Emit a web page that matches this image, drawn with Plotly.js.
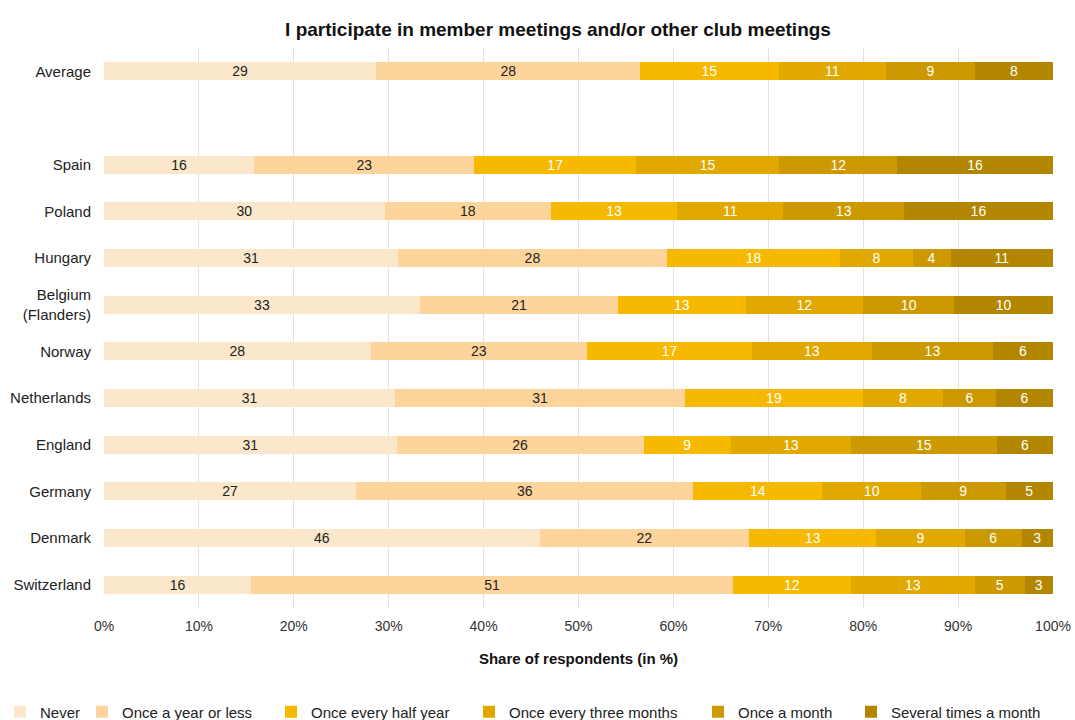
<!DOCTYPE html>
<html>
<head>
<meta charset="utf-8">
<script src="https://cdn.plot.ly/plotly-3.0.1.min.js"></script>
<style>html,body{margin:0;padding:0;background:#fff;}#chart{width:1075px;height:720px;}</style>
</head>
<body>
<div id="chart"></div>
<script>
const categories = ["Average", "gap", "Spain", "Poland", "Hungary", "Belgium (Flanders)", "Norway", "Netherlands", "England", "Germany", "Denmark", "Switzerland"];
const tickLabels = ["Average", "", "Spain", "Poland", "Hungary", "Belgium<br>(Flanders)", "Norway", "Netherlands", "England", "Germany", "Denmark", "Switzerland"];
const seriesNames = ["Never", "Once a year or less", "Once every half year", "Once every three months", "Once a month", "Several times a month"];
// shares in %; labels show rounded values
const never       = [28.7, null, 15.8, 29.6, 31.0, 33.3, 28.1, 30.7, 30.8, 26.6, 45.9, 15.5];
const yearOrLess  = [27.8, null, 23.2, 17.5, 28.3, 20.9, 22.8, 30.5, 26.0, 35.5, 22.1, 50.7];
const halfYear    = [14.6, null, 17.0, 13.3, 18.3, 13.4, 17.4, 18.8, 9.2, 13.6, 13.4, 12.4];
const threeMonths = [11.3, null, 15.1, 11.2, 7.6, 12.4, 12.6, 8.4, 12.6, 10.4, 9.3, 13.1];
const month       = [9.4, null, 12.4, 12.7, 4.0, 9.6, 12.8, 5.6, 15.4, 8.9, 6.0, 5.2];
const several     = [8.2, null, 16.4, 15.7, 10.8, 10.4, 6.3, 6.0, 5.9, 5.0, 3.3, 3.0];

const seriesValues = [never, yearOrLess, halfYear, threeMonths, month, several];
const colors = ["#FBE8CC", "#FDD49C", "#F6B900", "#E1A900", "#CC9900", "#B38600"];
const textColors = ["#222222", "#222222", "#ffffff", "#ffffff", "#ffffff", "#ffffff"];
const legendTextStart = [22, 122, 311, 509, 738, 891];

const traces = seriesValues.map((vals, i) => ({
  type: "bar",
  orientation: "h",
  name: seriesNames[i],
  y: categories,
  x: vals,
  text: vals.map(v => v == null ? "" : String(Math.round(v))),
  textposition: "inside",
  insidetextanchor: "middle",
  textangle: 0,
  constraintext: "none",
  textfont: {family: "Liberation Sans, Arial, sans-serif", size: 14, color: textColors[i]},
  marker: {color: colors[i], line: {width: 0}},
  legend: i === 0 ? "legend" : "legend" + (i + 1),
  hoverinfo: "skip"
}));

const layout = {
  width: 1075, height: 720,
  margin: {l: 104, r: 22, t: 48, b: 112},
  paper_bgcolor: "#ffffff", plot_bgcolor: "#ffffff",
  font: {family: "Liberation Sans, Arial, sans-serif", size: 14, color: "#222222"},
  barmode: "stack",
  barnorm: "percent",
  bargap: 0.61,
  title: {
    text: "<b>I participate in member meetings and/or other club meetings</b>",
    x: 558 / 1075, xanchor: "center", xref: "container",
    y: 1 - 29 / 720, yanchor: "middle", yref: "container",
    font: {size: 19, color: "#111111"}
  },
  xaxis: {
    range: [0, 100],
    tickvals: [0, 10, 20, 30, 40, 50, 60, 70, 80, 90, 100],
    ticktext: ["0%", "10%", "20%", "30%", "40%", "50%", "60%", "70%", "80%", "90%", "100%"],
    showgrid: true, gridcolor: "#e2e2e2", gridwidth: 1,
    zeroline: false, showline: false,
    ticks: "", ticklabelstandoff: 8,
    tickfont: {size: 14, color: "#333333"},
    title: {text: "<b>Share of respondents (in %)</b>", font: {size: 15, color: "#111111"}, standoff: 20},
    fixedrange: true
  },
  yaxis: {
    type: "category",
    categoryorder: "array", categoryarray: categories,
    autorange: "reversed",
    tickvals: categories, ticktext: tickLabels,
    showgrid: false, zeroline: false, showline: false,
    ticks: "", ticklabelstandoff: 12,
    tickfont: {size: 15, color: "#222222"},
    fixedrange: true
  },
  showlegend: true
};

legendTextStart.forEach((xs, i) => {
  const key = i === 0 ? "legend" : "legend" + (i + 1);
  layout[key] = {
    orientation: "h",
    xref: "container", yref: "container",
    x: Math.max(0, xs - 40) / 1075, xanchor: "left",
    y: 1 - 712 / 720, yanchor: "middle",
    font: {size: 15, color: "#222222"},
    bgcolor: "rgba(0,0,0,0)",
    itemclick: false, itemdoubleclick: false
  };
});

Plotly.newPlot("chart", traces, layout, {displayModeBar: false, staticPlot: true});
</script>
</body>
</html>
